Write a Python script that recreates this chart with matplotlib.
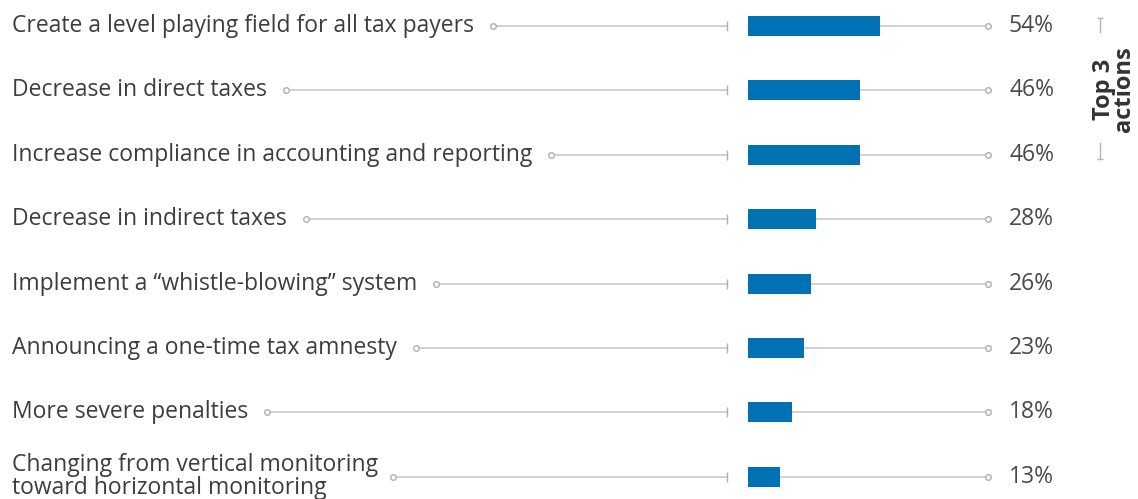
import matplotlib.pyplot as plt

plt.rcParams['font.family'] = ['Open Sans', 'DejaVu Sans']

actions = [
    'Create a level playing field for all tax payers',
    'Decrease in direct taxes',
    'Increase compliance in accounting and reporting',
    'Decrease in indirect taxes',
    'Implement a \u201cwhistle-blowing\u201d system',
    'Announcing a one-time tax amnesty',
    'More severe penalties',
    'Changing from vertical monitoring\ntoward horizontal monitoring',
]
shares = [54, 46, 46, 28, 26, 23, 18, 13]
pct_labels = ['54%', '46%', '46%', '28%', '26%', '23%', '18%', '13%']

W, H = 1138, 499
fig = plt.figure(figsize=(W / 100, H / 100), dpi=100)
ax = fig.add_axes([0, 0, 1, 1])

# pixel -> data mapping: 0% at x=748px, 2.44 px per percent
px0, scale = 748, 2.44
ax.set_xlim((0 - px0) / scale, (W - px0) / scale)
row0, step = 26, 64.4
ax.set_ylim((H - row0) / step, -row0 / step)
ax.axis('off')

grey = '#c9c9c9'
blue = '#0071b2'
txt = '#3d3d3d'
fs = 16.5
tick_x = (727 - px0) / scale
label_x = (12 - px0) / scale

ax.barh(range(len(shares)), shares, height=0.31, color=blue, zorder=3)

fig.canvas.draw()
renderer = fig.canvas.get_renderer()
inv = ax.transData.inverted()

for i, (name, v, lab) in enumerate(zip(actions, shares, pct_labels)):
    t = ax.text(label_x, i, name, ha='left', va='center', fontsize=fs,
                color=txt, linespacing=0.95)
    # width of the first line decides where the leader starts
    first = name.split('\n')[0]
    probe = ax.text(label_x, i, first, fontsize=fs)
    end_px = probe.get_window_extent(renderer).x1
    probe.remove()
    gap = 15 if '\n' in name else 19
    start = inv.transform((end_px + gap, 0))[0]
    ax.plot([start, tick_x], [i, i], color=grey, lw=1.2, zorder=1)
    ax.plot([start], [i], marker='o', ms=4, mfc='white', mec='#b0b0b0', mew=1, zorder=2)
    ax.plot([tick_x], [i], marker='|', ms=7, color='#b0b0b0', mew=1, zorder=2)
    ax.plot([0, 98.5], [i, i], color=grey, lw=1.2, zorder=1)
    ax.plot([98.5], [i], marker='o', ms=4, mfc='white', mec='#b0b0b0', mew=1, zorder=2)
    ax.text((1009 - px0) / scale, i, lab, ha='left', va='center', fontsize=fs,
            color='#4a4a4a')

# "Top 3 actions" bracket
bx = (1100 - px0) / scale
ax.plot([bx, bx], [-0.12, 0.1], color='#b5b5b5', lw=1)
ax.plot([bx, bx], [1.82, 2.06], color='#b5b5b5', lw=1)
ax.plot([bx], [-0.12], marker='_', ms=5, color='#b5b5b5')
ax.plot([bx], [2.06], marker='_', ms=5, color='#b5b5b5')
ax.text((1114 - px0) / scale, 0.98, 'Top 3\nactions', rotation=90, ha='center',
        va='center', fontsize=17, fontweight='bold', color='#333333',
        linespacing=0.8)

fig.savefig('out.png', dpi=100)
